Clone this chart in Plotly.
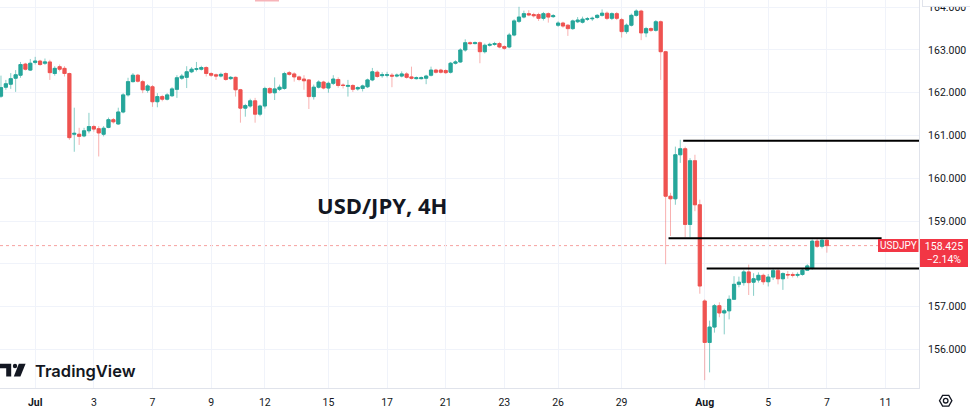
import numpy as np
import plotly.graph_objects as go

# ---------------- data ----------------
opens = [161.92, 162.13, 162.20, 162.34, 162.41, 162.67, 162.53, 162.71, 162.74, 162.69,
         162.72, 162.45, 162.61, 162.57, 162.45, 161.03, 161.03, 160.99, 161.11, 161.21,
         161.16, 161.03, 161.19, 161.37, 161.27, 161.55, 161.95, 162.26, 162.41, 162.26,
         162.06, 162.14, 161.79, 161.91, 161.85, 161.93, 162.08, 162.34, 162.36, 162.49,
         162.55, 162.55, 162.59, 162.45, 162.42, 162.39, 162.45, 162.33, 162.36, 162.07,
         161.64, 161.69, 161.81, 161.50, 161.69, 162.10, 162.00, 162.08, 162.10, 162.47,
         162.44, 162.37, 162.32, 162.30, 161.91, 162.13, 162.25, 162.11, 162.22, 162.31,
         162.18, 162.15, 162.17, 162.09, 162.10, 162.14, 162.30, 162.48, 162.40, 162.41,
         162.41, 162.39, 162.39, 162.44, 162.37, 162.33, 162.33, 162.34, 162.41, 162.53,
         162.53, 162.52, 162.48, 162.69, 162.72, 163.00, 163.17, 163.15, 163.17, 162.96,
         163.11, 163.13, 163.15, 163.08, 163.07, 163.35, 163.67, 163.77, 163.85, 163.83,
         163.83, 163.74, 163.85, 163.78, 163.58, 163.63, 163.58, 163.50, 163.66, 163.65,
         163.72, 163.73, 163.76, 163.81, 163.86, 163.74, 163.85, 163.71, 163.43, 163.58,
         163.81, 163.91, 163.40, 163.50, 163.46, 163.66, 162.96, 159.58, 159.52, 160.55,
         160.69, 158.92, 160.41, 159.38, 157.13, 156.16, 156.52, 157.02, 156.85, 156.90,
         157.17, 157.52, 157.56, 157.81, 157.57, 157.62, 157.73, 157.58, 157.69, 157.84,
         157.65, 157.75, 157.75, 157.73, 157.75, 157.85, 157.90, 158.53, 158.41, 158.55]
highs = [162.40, 162.30, 162.46, 162.53, 162.72, 162.70, 162.79, 162.84, 162.77, 162.80,
         162.77, 162.62, 162.66, 162.62, 162.47, 161.65, 161.18, 161.18, 161.53, 161.25,
         161.22, 161.22, 161.42, 161.41, 161.65, 161.99, 162.35, 162.46, 162.44, 162.30,
         162.20, 162.18, 161.99, 161.95, 161.99, 162.13, 162.41, 162.44, 162.62, 162.60,
         162.72, 162.63, 162.62, 162.48, 162.45, 162.47, 162.48, 162.39, 162.38, 162.09,
         161.74, 161.86, 161.88, 161.72, 162.14, 162.13, 162.36, 162.19, 162.49, 162.51,
         162.48, 162.40, 162.41, 162.32, 162.19, 162.29, 162.28, 162.26, 162.41, 162.36,
         162.22, 162.30, 162.20, 162.15, 162.19, 162.33, 162.58, 162.52, 162.48, 162.49,
         162.46, 162.45, 162.50, 162.48, 162.61, 162.38, 162.38, 162.42, 162.61, 162.56,
         162.56, 162.55, 162.72, 162.76, 163.04, 163.25, 163.20, 163.20, 163.20, 163.15,
         163.17, 163.19, 163.19, 163.11, 163.40, 163.72, 164.01, 163.92, 163.93, 163.87,
         163.87, 163.89, 163.88, 163.84, 163.67, 163.66, 163.60, 163.71, 163.77, 163.78,
         163.77, 163.78, 163.84, 163.95, 163.90, 163.88, 163.89, 163.75, 163.62, 163.85,
         163.95, 163.94, 163.54, 163.53, 163.70, 163.69, 162.98, 159.66, 160.74, 160.90,
         160.74, 160.47, 160.55, 159.50, 157.17, 156.67, 157.06, 157.10, 156.95, 157.26,
         157.71, 157.70, 157.86, 157.98, 157.78, 157.80, 157.77, 157.76, 157.90, 157.88,
         157.80, 157.83, 157.80, 157.80, 157.89, 157.99, 158.57, 158.58, 158.60, 158.59]
lows = [161.88, 162.07, 162.09, 162.02, 162.35, 162.52, 162.51, 162.66, 162.63, 162.65,
        162.30, 162.40, 162.50, 162.38, 160.90, 160.62, 160.78, 160.96, 161.05, 161.09,
        160.51, 160.98, 161.17, 161.28, 161.25, 161.52, 161.91, 162.24, 162.24, 161.99,
        162.00, 161.67, 161.66, 161.80, 161.82, 161.90, 161.88, 162.30, 162.11, 162.46,
        162.50, 162.52, 162.38, 162.37, 162.30, 162.36, 162.28, 162.30, 161.91, 161.30,
        161.44, 161.65, 161.30, 161.45, 161.63, 161.97, 161.83, 162.04, 162.07, 162.40,
        162.26, 162.27, 162.07, 161.62, 161.84, 162.10, 162.08, 162.00, 162.18, 162.12,
        162.10, 161.91, 162.02, 162.05, 162.03, 162.11, 162.27, 162.35, 162.35, 162.36,
        162.13, 162.36, 162.36, 162.33, 162.31, 162.31, 162.31, 162.20, 162.38, 162.45,
        162.45, 162.44, 162.45, 162.66, 162.70, 162.96, 163.12, 163.13, 162.69, 162.92,
        163.08, 163.10, 163.04, 163.00, 163.04, 163.32, 163.63, 163.74, 163.79, 163.76,
        163.68, 163.69, 163.64, 163.75, 163.54, 163.52, 163.33, 163.47, 163.63, 163.62,
        163.68, 163.68, 163.73, 163.78, 163.70, 163.70, 163.70, 163.29, 163.38, 163.55,
        163.78, 163.23, 163.30, 163.42, 163.43, 162.30, 157.99, 158.65, 159.38, 160.36,
        158.62, 158.62, 159.23, 157.30, 155.28, 155.46, 156.39, 156.75, 156.35, 156.70,
        157.16, 157.45, 157.49, 157.27, 157.25, 157.56, 157.51, 157.47, 157.62, 157.52,
        157.39, 157.65, 157.68, 157.68, 157.72, 157.84, 157.86, 158.37, 158.36, 158.26]
closes = [162.12, 162.21, 162.33, 162.42, 162.66, 162.55, 162.69, 162.74, 162.66, 162.72,
          162.47, 162.57, 162.55, 162.45, 160.95, 161.05, 160.98, 161.11, 161.21, 161.15,
          161.06, 161.17, 161.37, 161.32, 161.55, 161.95, 162.26, 162.41, 162.27, 162.07,
          162.16, 161.79, 161.91, 161.85, 161.95, 162.09, 162.35, 162.39, 162.49, 162.55,
          162.56, 162.59, 162.45, 162.41, 162.39, 162.43, 162.31, 162.36, 162.07, 161.64,
          161.70, 161.81, 161.50, 161.69, 162.10, 162.00, 162.09, 162.13, 162.45, 162.43,
          162.37, 162.31, 162.28, 161.91, 162.13, 162.25, 162.11, 162.22, 162.32, 162.17,
          162.17, 162.17, 162.08, 162.12, 162.16, 162.30, 162.49, 162.38, 162.42, 162.42,
          162.39, 162.41, 162.44, 162.36, 162.34, 162.35, 162.35, 162.39, 162.53, 162.48,
          162.48, 162.47, 162.69, 162.72, 163.00, 163.17, 163.15, 163.17, 162.96, 163.11,
          163.13, 163.15, 163.07, 163.04, 163.35, 163.68, 163.77, 163.85, 163.82, 163.80,
          163.74, 163.85, 163.77, 163.80, 163.63, 163.56, 163.50, 163.68, 163.70, 163.72,
          163.73, 163.74, 163.81, 163.86, 163.74, 163.85, 163.74, 163.43, 163.58, 163.81,
          163.91, 163.40, 163.50, 163.46, 163.66, 162.96, 159.58, 159.52, 160.55, 160.69,
          158.92, 160.41, 159.38, 157.48, 156.16, 156.52, 157.02, 156.85, 156.90, 157.17,
          157.52, 157.57, 157.81, 157.56, 157.65, 157.73, 157.58, 157.69, 157.84, 157.65,
          157.77, 157.74, 157.73, 157.75, 157.85, 157.95, 158.53, 158.41, 158.55, 158.425]
bars = list(range(len(opens)))

tick_bars = [7, 19, 31, 43, 54, 67, 79, 91, 103, 114, 127, 144, 157, 169, 181]
tick_labels = ["<b>Jul</b>", "3", "7", "9", "12", "15", "17", "21", "23", "26", "29",
               "<b>Aug</b>", "5", "7", "11"]
price_ticks = [156, 157, 158, 159, 160, 161, 162, 163, 164]

level_prices = [160.88, 158.60, 157.89]
level_start_bar = [139.6, 136.6, 144.4]
level_end_bar = [None, 180.2, None]

symbol = "USDJPY"
change_pct = -2.14
chart_title = "USD/JPY, 4H"

# ---------------- layout geometry ----------------
W, H = 970, 410
PL, PR, PT, PB = 0, 919, 0, 388          # plot area in pixels
X_RANGE = [-0.2, 187.85]
Y_RANGE = [155.095, 164.169]

def px(x):
    return (x - PL) / (PR - PL)

def py(y):
    return (PB - y) / (PB - PT)

UP = "#26a69a"
DN = "#ef5350"
LBL = "#f23645"
TXT = "#131722"
GRID = "#f0f3fa"
AXL = "#e0e3eb"

o = np.array(opens)
c = np.array(closes)
body_hi = np.maximum(o, c)
body_lo = np.minimum(o, c)

fig = go.Figure()
# wicks (lighter)
fig.add_trace(go.Candlestick(
    x=bars, open=opens, high=highs, low=lows, close=closes,
    increasing=dict(line=dict(color="rgba(38,166,154,0.55)", width=1),
                    fillcolor="rgba(38,166,154,0.55)"),
    decreasing=dict(line=dict(color="rgba(239,83,80,0.45)", width=1),
                    fillcolor="rgba(239,83,80,0.45)"),
    whiskerwidth=0, hoverinfo="skip", showlegend=False))
# bodies (solid)
fig.add_trace(go.Candlestick(
    x=bars, open=opens, high=body_hi, low=body_lo, close=closes,
    increasing=dict(line=dict(color=UP, width=0.8), fillcolor=UP),
    decreasing=dict(line=dict(color=DN, width=0.8), fillcolor=DN),
    whiskerwidth=0, hoverinfo="skip", showlegend=False))

shapes = []
# drawn horizontal levels
for lvl, s, e in zip(level_prices, level_start_bar, level_end_bar):
    shapes.append(dict(type="line", xref="x", yref="y", x0=s,
                       x1=(X_RANGE[1] if e is None else e), y0=lvl, y1=lvl,
                       line=dict(color="#000000", width=2), layer="above"))
# last price dotted line
last = closes[-1]
shapes.append(dict(type="line", xref="paper", yref="y", x0=0, x1=px(878), y0=last, y1=last,
                   line=dict(color="rgba(239,83,80,0.55)", width=1, dash="dot"), layer="below"))
# symbol label box
shapes.append(dict(type="rect", xref="paper", yref="paper", x0=px(878), x1=px(918.5),
                   y0=py(252), y1=py(239), fillcolor=LBL, line=dict(width=0), layer="above"))
# tiny pink toolbar remnant at top
shapes.append(dict(type="rect", xref="paper", yref="paper", x0=px(255), x1=px(279),
                   y0=py(1.5), y1=py(-1), fillcolor="#f7b4b9", line=dict(width=0), layer="above"))

# TradingView logo glyph
def path(pts):
    return "M " + " L ".join(f"{px(a):.5f},{py(b):.5f}" for a, b in pts) + " Z"

shapes.append(dict(type="path", xref="paper", yref="paper",
                   path=path([(0, 363.8), (11.2, 363.8), (11.2, 376.5), (6.2, 376.5), (6.2, 368.3), (0, 368.3)]),
                   fillcolor=TXT, line=dict(width=0), layer="above"))
shapes.append(dict(type="circle", xref="paper", yref="paper",
                   x0=px(12.8), x1=px(17.2), y0=py(368.2), y1=py(363.8),
                   fillcolor=TXT, line=dict(width=0), layer="above"))
shapes.append(dict(type="path", xref="paper", yref="paper",
                   path=path([(18.8, 363.8), (25.6, 363.8), (20.4, 376.5), (13.8, 376.5)]),
                   fillcolor=TXT, line=dict(width=0), layer="above"))

# settings icon at bottom right
cx, cy, r = 945.7, 400.7, 6.2
hexpts = [(cx + r * np.cos(np.radians(a)), cy + r * np.sin(np.radians(a))) for a in range(0, 360, 60)]
shapes.append(dict(type="path", xref="paper", yref="paper", path=path(hexpts),
                   fillcolor="rgba(0,0,0,0)", line=dict(color=TXT, width=1.3), layer="above"))
shapes.append(dict(type="circle", xref="paper", yref="paper",
                   x0=px(cx - 2.3), x1=px(cx + 2.3), y0=py(cy + 2.3), y1=py(cy - 2.3),
                   fillcolor="rgba(0,0,0,0)", line=dict(color=TXT, width=1.3), layer="above"))

sign = "−" if change_pct < 0 else "+"
annotations = [
    dict(x=px(382), y=py(204.5), xref="paper", yref="paper", text=f"<b>{chart_title}</b>",
         showarrow=False, xanchor="center", yanchor="middle",
         font=dict(family="Open Sans", size=22, color=TXT)),
    dict(x=px(33), y=py(371), xref="paper", yref="paper", text="TradingView",
         showarrow=False, xanchor="left", yanchor="middle",
         font=dict(family="Inter", size=16.5, color=TXT, weight=600)),
    dict(x=px(898.2), y=py(245.5), xref="paper", yref="paper", text=symbol,
         showarrow=False, xanchor="center", yanchor="middle",
         font=dict(family="Roboto", size=10, color="#ffffff")),
    # white box at the top of the price scale (cuts the 164 label like the reference)
    dict(x=px(949.5), y=py(-1.5), xref="paper", yref="paper", text="&nbsp;",
         showarrow=False, xanchor="center", yanchor="middle", width=52, height=14,
         bgcolor="#ffffff", bordercolor=AXL, borderwidth=1, borderpad=0,
         font=dict(size=8)),
    # last price label on the price scale
    dict(x=px(944), y=py(253.25), xref="paper", yref="paper",
         text=f"{last:.3f}<br>{sign}{abs(change_pct):.2f}%",
         showarrow=False, xanchor="center", yanchor="middle", width=48, height=28,
         align="center", valign="middle", bgcolor=LBL, borderwidth=0, borderpad=0,
         font=dict(family="Roboto", size=10.5, color="#ffffff")),
]

fig.update_layout(
    width=W, height=H,
    margin=dict(l=PL, r=W - PR, t=PT, b=H - PB, pad=0),
    paper_bgcolor="#ffffff", plot_bgcolor="#ffffff",
    showlegend=False, hovermode=False,
    boxgap=0.35, boxgroupgap=0,
    shapes=shapes, annotations=annotations,
    xaxis=dict(range=X_RANGE, rangeslider=dict(visible=False),
               tickmode="array", tickvals=tick_bars, ticktext=tick_labels,
               showgrid=True, gridcolor=GRID, gridwidth=1, zeroline=False,
               showline=True, linecolor=AXL, linewidth=1,
               ticks="outside", ticklen=4, tickcolor="rgba(0,0,0,0)",
               tickfont=dict(family="Roboto", size=10.5, color=TXT), fixedrange=True),
    yaxis=dict(range=Y_RANGE, side="right", tickmode="array", tickvals=price_ticks,
               ticktext=[f"{v:.3f}" for v in price_ticks],
               showgrid=True, gridcolor=GRID, gridwidth=1, zeroline=False,
               showline=True, linecolor=AXL, linewidth=1,
               ticks="outside", ticklen=6, tickcolor="rgba(0,0,0,0)",
               tickfont=dict(family="Roboto", size=10.5, color=TXT), fixedrange=True),
)

fig.write_html("out.html", config={"displayModeBar": False},
               post_script="document.body.style.margin='0';document.body.style.overflow='hidden';")
